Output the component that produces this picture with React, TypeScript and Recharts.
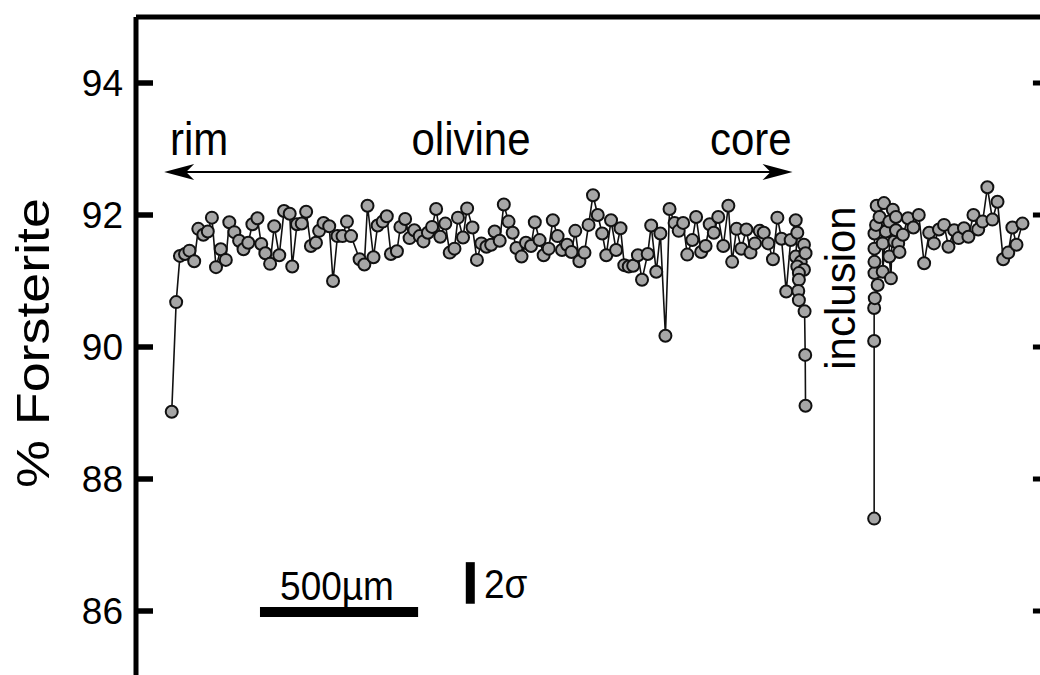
import React from 'react'
import { LineChart, Line, XAxis, YAxis, ReferenceLine } from 'recharts'

// % forsterite along the traverse, distance in µm from the left frame edge
const yTicks = [86, 88, 90, 92, 94]

// rim -> core part of the olivine traverse
const leftDist = [
  113, 127, 139, 155, 169, 184, 197, 213, 227, 240,
  253, 268, 284, 295, 311, 326, 340, 355, 368, 384,
  396, 409, 424, 437, 453, 468, 486, 494, 509, 524,
  538, 553, 569, 579, 593, 611, 623, 637, 653, 667,
  680, 707, 722, 732, 751, 764, 780, 793, 806, 825,
  836, 851, 865, 880, 897, 909, 923, 936, 949, 962,
  978, 992, 1007, 1018, 1034, 1047, 1064, 1078, 1092, 1108,
  1123, 1134, 1150, 1163, 1178, 1191, 1203, 1219, 1233, 1249,
  1261, 1276, 1289, 1305, 1318, 1333, 1347, 1363, 1377, 1389,
  1402, 1418, 1431, 1445, 1460, 1474, 1487, 1502, 1518, 1532,
  1544, 1558, 1572, 1587, 1600, 1618, 1629, 1645, 1658, 1674,
  1687, 1703, 1716, 1730, 1743, 1759, 1771, 1787, 1801, 1814,
  1827, 1841, 1857, 1873, 1885, 1899, 1914, 1930, 1943, 1957,
  1972, 1985, 1999, 2014, 2028, 2041, 2056, 2070, 2086, 2091,
  2086, 2112, 2102, 2117, 2091, 2112, 2096, 2096, 2094, 2096,
  2114, 2116, 2117,
]
const leftFo = [
  89.02, 90.68, 91.38, 91.41, 91.46, 91.3, 91.79, 91.7, 91.75, 91.96,
  91.21, 91.48, 91.32, 91.89, 91.74, 91.61, 91.48, 91.58, 91.86, 91.95,
  91.56, 91.42, 91.26, 91.83, 91.39, 92.06, 92.02, 91.22, 91.86, 91.87,
  92.05, 91.53, 91.58, 91.76, 91.88, 91.83, 91.0, 91.68, 91.68, 91.9,
  91.68, 91.33, 91.25, 92.14, 91.36, 91.84, 91.9, 91.98, 91.41, 91.45,
  91.82, 91.94, 91.65, 91.77, 91.68, 91.6, 91.73, 91.82, 92.09, 91.67,
  91.87, 91.43, 91.49, 91.96, 91.66, 92.1, 91.81, 91.32, 91.57, 91.52,
  91.55, 91.75, 91.61, 92.16, 91.9, 91.73, 91.5, 91.37, 91.58, 91.53,
  91.89, 91.62, 91.39, 91.49, 91.92, 91.68, 91.47, 91.55, 91.44, 91.76,
  91.3, 91.43, 91.85, 92.3, 92.0, 91.72, 91.39, 91.92, 91.47, 91.8,
  91.24, 91.22, 91.23, 91.39, 91.02, 91.41, 91.84, 91.14, 91.72, 90.17,
  92.09, 91.88, 91.76, 91.88, 91.4, 91.62, 91.97, 91.44, 91.53, 91.86,
  91.73, 91.97, 91.53, 92.14, 91.29, 91.79, 91.49, 91.78, 91.43, 91.57,
  91.76, 91.73, 91.57, 91.33, 91.96, 91.64, 90.84, 91.62, 91.92, 91.73,
  91.37, 91.55, 91.29, 91.42, 91.22, 91.17, 91.12, 91.02, 90.85, 90.71,
  90.54, 89.88, 89.11,
]

// traverse continued past the inclusion
const rightDist = [
  2334, 2334, 2334, 2336, 2345, 2335, 2335, 2335, 2335, 2340,
  2342, 2365, 2351, 2361, 2361, 2371, 2382, 2382, 2387, 2393,
  2398, 2403, 2403, 2410, 2414, 2425, 2441, 2458, 2475, 2492,
  2508, 2523, 2539, 2555, 2569, 2587, 2601, 2618, 2632, 2648,
  2663, 2677, 2692, 2708, 2724, 2742, 2758, 2771, 2784, 2803,
]
const rightFo = [
  87.4, 90.09, 90.59, 90.74, 90.94, 91.12, 91.29, 91.49, 91.72, 91.85,
  92.14, 92.18, 91.97, 91.57, 91.14, 91.75, 91.9, 91.37, 91.04, 92.08,
  91.6, 91.77, 91.97, 91.57, 91.44, 91.7, 91.95, 91.81, 92.0, 91.27,
  91.73, 91.57, 91.78, 91.85, 91.52, 91.77, 91.65, 91.8, 91.67, 92.0,
  91.78, 91.9, 92.42, 91.93, 92.2, 91.33, 91.43, 91.81, 91.55, 91.87,
]

// frame and annotations (data units)
const xDomain = [0, 2890]
const yDomain = [85, 95]
const tickLenUm = 54
const scaleBarDist = [392, 892]
const scaleBarFo = 85.985
const sigmaDist = 1057
const sigmaFo = [86.11, 86.74]
const arrowDist = [89, 2076]
const arrowFo = 92.65

const toRows = (d: number[], f: number[]) => d.map((x, i) => ({ dist: x, fo: f[i] }))
const rimToCore = toRows(leftDist, leftFo)
const pastInclusion = toRows(rightDist, rightFo)

const FONT = '"Liberation Sans", Arial, Helvetica, sans-serif'
const CHART = { width: 1100, height: 700, margin: { top: 17, right: 50, bottom: 23, left: 0 } }
const Y_AXIS_W = 136

// same linear mapping the chart uses for its plot area, for the inward tick stubs
const plotTop = CHART.margin.top
const plotBottom = CHART.height - CHART.margin.bottom
const yPx = (v: number) =>
  plotTop + ((yDomain[1] - v) / (yDomain[1] - yDomain[0])) * (plotBottom - plotTop)

function DoubleArrow(props: any) {
  const { x1, y1, x2 } = props
  const y = y1
  const head = (tx: number, dir: number) =>
    `M${tx},${y} L${tx + dir * 30},${y - 8} L${tx + dir * 22},${y} L${tx + dir * 30},${y + 8} Z`
  return (
    <g>
      <line x1={x1 + 10} y1={y} x2={x2 - 10} y2={y} stroke="#000" strokeWidth={2} />
      <path d={head(x1, 1)} fill="#000" />
      <path d={head(x2, -1)} fill="#000" />
    </g>
  )
}

const dotStyle = { r: 6, fill: '#a6a6a6', stroke: '#111', strokeWidth: 2 }
const frame = { xAxisId: 'top', yAxisId: 'left', ifOverflow: 'visible' as const }
const layer = { position: 'absolute' as const, left: 0, top: 0 }

export default function App() {
  return (
    <div
      style={{
        position: 'fixed',
        left: 0,
        top: 0,
        width: 1040,
        height: 675,
        overflow: 'hidden',
        background: '#fff',
      }}
    >
      <div style={layer}>
        <LineChart {...CHART}>
          <XAxis
            xAxisId="top"
            orientation="top"
            type="number"
            dataKey="dist"
            domain={xDomain}
            allowDataOverflow
            hide
          />
          <YAxis
            yAxisId="left"
            type="number"
            domain={yDomain}
            ticks={yTicks}
            width={Y_AXIS_W}
            tickSize={-17}
            tickMargin={30}
            tickLine={{ stroke: '#000', strokeWidth: 5 }}
            tick={{ fontSize: 37, fill: '#000', fontFamily: FONT }}
            axisLine={{ stroke: '#000', strokeWidth: 5 }}
          />
          <ReferenceLine {...frame} y={yDomain[1]} stroke="#000" strokeWidth={5} />
          {yTicks.map((t) => (
            <ReferenceLine
              key={`r${t}`}
              {...frame}
              segment={[{ x: xDomain[1] - tickLenUm, y: t }, { x: xDomain[1], y: t }]}
              stroke="#000"
              strokeWidth={5}
            />
          ))}
          <ReferenceLine
            {...frame}
            segment={[{ x: arrowDist[0], y: arrowFo }, { x: arrowDist[1], y: arrowFo }]}
            shape={DoubleArrow}
          />
          <ReferenceLine
            {...frame}
            segment={[{ x: scaleBarDist[0], y: scaleBarFo }, { x: scaleBarDist[1], y: scaleBarFo }]}
            stroke="#000"
            strokeWidth={10}
          />
          <ReferenceLine
            {...frame}
            segment={[{ x: sigmaDist, y: sigmaFo[0] }, { x: sigmaDist, y: sigmaFo[1] }]}
            stroke="#000"
            strokeWidth={9}
          />
          <Line
            xAxisId="top"
            yAxisId="left"
            data={rimToCore}
            dataKey="fo"
            type="linear"
            stroke="#111"
            strokeWidth={1.6}
            dot={dotStyle}
            activeDot={false}
            isAnimationActive={false}
          />
          <Line
            xAxisId="top"
            yAxisId="left"
            data={pastInclusion}
            dataKey="fo"
            type="linear"
            stroke="#111"
            strokeWidth={1.6}
            dot={dotStyle}
            activeDot={false}
            isAnimationActive={false}
          />
        </LineChart>
      </div>

      {/* annotation texts and the left-axis tick stubs, drawn on top */}
      <svg
        width={1040}
        height={675}
        style={{ ...layer, pointerEvents: 'none' }}
        fontFamily={FONT}
      >
        {yTicks.map((t) => (
          <rect
            key={t}
            x={Y_AXIS_W}
            y={yPx(t) - 2.5}
            width={17}
            height={5}
            fill="#000"
          />
        ))}
        <text
          transform="translate(49,343) rotate(-90)"
          textAnchor="middle"
          fontSize={46}
          textLength={290}
          lengthAdjust="spacingAndGlyphs"
        >
          % Forsterite
        </text>
        <text transform="translate(170,155) scale(1,1.1)" fontSize={42}>rim</text>
        <text transform="translate(471,155) scale(1,1.1)" fontSize={42} textAnchor="middle">
          olivine
        </text>
        <text transform="translate(710,155) scale(1,1.1)" fontSize={42}>core</text>
        <text transform="translate(855,288) rotate(-90)" fontSize={42} textAnchor="middle">
          inclusion
        </text>
        <text transform="translate(337,600) scale(1,1.08)" fontSize={37} textAnchor="middle">
          500µm
        </text>
        <text transform="translate(484,598) scale(1,1.08)" fontSize={37}>2σ</text>
      </svg>
    </div>
  )
}
